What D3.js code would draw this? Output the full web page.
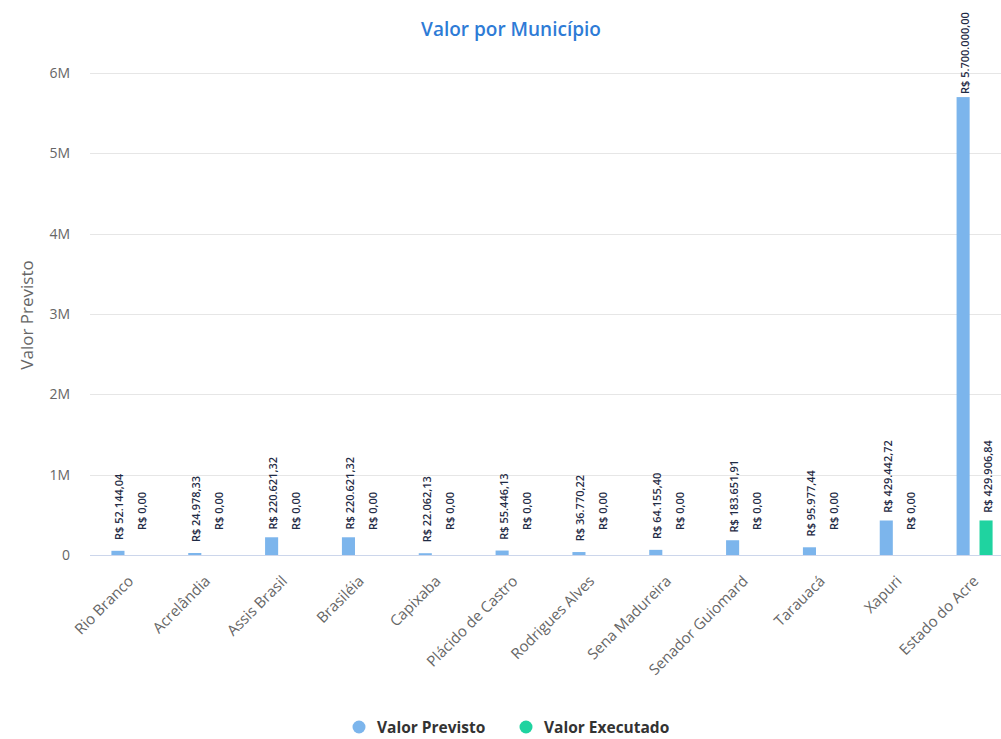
<!DOCTYPE html>
<html>
<head>
<meta charset="utf-8">
<script src="https://cdn.jsdelivr.net/npm/d3@7/dist/d3.min.js"></script>
<style>
  html, body { margin: 0; padding: 0; background: #fff; }
  svg { display: block; font-family: "Open Sans", sans-serif; }
</style>
</head>
<body>
<svg id="chart" width="1001" height="739"></svg>
<script>
const categories = ["Rio Branco", "Acrelândia", "Assis Brasil", "Brasiléia", "Capixaba", "Plácido de Castro", "Rodrigues Alves", "Sena Madureira", "Senador Guiomard", "Tarauacá", "Xapuri", "Estado do Acre"];
const valorPrevisto = [52144.04, 24978.33, 220621.32, 220621.32, 22062.13, 55446.13, 36770.22, 64155.40, 183651.91, 95977.44, 429442.72, 5700000.00];
const valorExecutado = [0, 0, 0, 0, 0, 0, 0, 0, 0, 0, 0, 429906.84];
const seriesNames = ["Valor Previsto", "Valor Executado"];
const seriesColors = ["#7cb5ec", "#1fd3a0"];
const yTicks = [0, 1000000, 2000000, 3000000, 4000000, 5000000, 6000000];
const yTickLabels = ["0", "1M", "2M", "3M", "4M", "5M", "6M"];
const chartTitle = "Valor por Município";
const yAxisTitle = "Valor Previsto";

const svg = d3.select("#chart");
const plotLeft = 91, plotRight = 1013, plotTop = 73, plotBottom = 555;

const x0 = d3.scaleBand().domain(categories).range([plotLeft, plotRight]).padding(0);
const x1 = d3.scaleBand().domain(seriesNames).range([0, x0.bandwidth()]).paddingInner(0.43).paddingOuter(0.89);
const y = d3.scaleLinear().domain([0, 6000000]).range([plotBottom, plotTop]);

const fmt = v => "R$ " + v.toLocaleString("pt-BR", {minimumFractionDigits: 2, maximumFractionDigits: 2});

// title
svg.append("text").attr("x", 511).attr("y", 36).attr("text-anchor", "middle")
  .attr("font-size", 19).attr("font-weight", 600).attr("fill", "#2e7bd6").text(chartTitle);

// gridlines
svg.append("g").selectAll("line").data(yTicks.slice(1)).join("line")
  .attr("x1", plotLeft - 1).attr("x2", 1001)
  .attr("y1", d => Math.round(y(d)) + 0.5).attr("y2", d => Math.round(y(d)) + 0.5)
  .attr("stroke", "#e6e6e6").attr("stroke-width", 1);

// y axis labels
const yAxis = d3.axisLeft(y).tickValues(yTicks).tickFormat((d, i) => yTickLabels[i]).tickSize(0).tickPadding(0);
const gy = svg.append("g").attr("transform", `translate(${plotLeft - 21},0)`).call(yAxis);
gy.select(".domain").remove();
gy.selectAll("text").attr("font-size", 14).attr("fill", "#666").attr("font-family", "Open Sans, sans-serif");

// y axis title
svg.append("text").attr("transform", `translate(33,315) rotate(-90)`).attr("text-anchor", "middle")
  .attr("font-size", 17).attr("fill", "#666").text(yAxisTitle);

// data table
const rows = categories.map((c, i) => ({cat: c, values: [
  {name: seriesNames[0], value: valorPrevisto[i], color: seriesColors[0]},
  {name: seriesNames[1], value: valorExecutado[i], color: seriesColors[1]}
]}));

const groups = svg.append("g").selectAll("g").data(rows).join("g")
  .attr("transform", d => `translate(${x0(d.cat)},0)`);

groups.selectAll("rect").data(d => d.values).join("rect")
  .attr("x", d => x1(d.name)).attr("width", x1.bandwidth())
  .attr("y", d => y(d.value)).attr("height", d => plotBottom - y(d.value))
  .attr("fill", d => d.color);

groups.selectAll("text.lbl").data(d => d.values).join("text").attr("class", "lbl")
  .attr("transform", d => `translate(${x1(d.name) + x1.bandwidth() / 2 + 1},${y(d.value) - 44}) rotate(-90)`)
  .attr("text-anchor", "middle").attr("dominant-baseline", "central")
  .attr("font-size", 11).attr("font-weight", 600).attr("fill", "#1f2b45")
  .text(d => fmt(d.value));

// x axis line
svg.append("line").attr("x1", plotLeft - 1).attr("x2", 1001)
  .attr("y1", plotBottom + 0.5).attr("y2", plotBottom + 0.5)
  .attr("stroke", "#ccd6eb").attr("stroke-width", 1);

// x axis labels
const xAxis = d3.axisBottom(x0).tickSize(0).tickPadding(0);
const gx = svg.append("g").attr("transform", `translate(0,${plotBottom})`).call(xAxis);
gx.select(".domain").remove();
gx.selectAll("text")
  .attr("font-size", 15).attr("fill", "#666").attr("font-family", "Open Sans, sans-serif")
  .attr("text-anchor", "end").attr("dy", null).attr("y", 0)
  .attr("transform", "translate(5,27) rotate(-45)");

// legend
const legendItems = [{name: seriesNames[0], color: seriesColors[0], x: 359}, {name: seriesNames[1], color: seriesColors[1], x: 526}];
const lg = svg.append("g").selectAll("g").data(legendItems).join("g")
  .attr("transform", d => `translate(${d.x},727)`);
lg.append("circle").attr("r", 6.5).attr("fill", d => d.color);
lg.append("text").attr("x", 18).attr("y", 5.5).attr("font-size", 15.5).attr("font-weight", "bold")
  .attr("fill", "#333").text(d => d.name);
</script>
</body>
</html>
